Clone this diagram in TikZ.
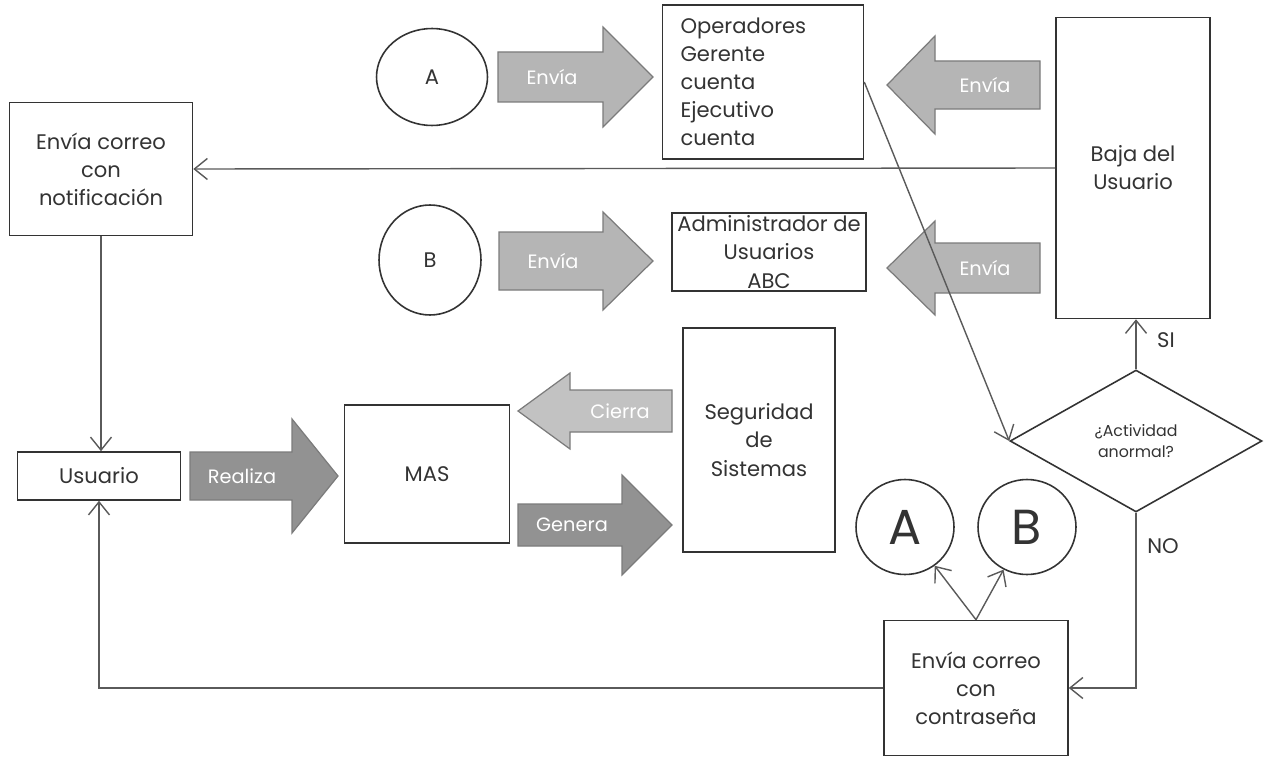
\documentclass[tikz,border=0pt]{standalone}
\usepackage{fontspec}
\setmainfont{Poppins}
\usetikzlibrary{arrows.meta,shapes.geometric}

\definecolor{inkgray}{HTML}{333333}
\definecolor{linegray}{HTML}{5A5A5A}
\definecolor{lightarrow}{HTML}{B5B5B5}
\definecolor{palearrow}{HTML}{C2C2C2}
\definecolor{darkarrow}{HTML}{929292}

\begin{document}
\begin{tikzpicture}[x=0.02cm,y=-0.02cm,
    box/.style={draw=inkgray, line width=0.9pt, align=center, text=inkgray,
                font=\fontsize{12}{16}\selectfont, inner sep=2pt},
    ring/.style={draw=inkgray, line width=0.9pt, ellipse, text=inkgray, inner sep=0pt},
    conn/.style={draw=linegray, line width=0.8pt, -{Straight Barb[length=2.6mm,width=4.2mm]}},
    blk/.style={draw=linegray!80, line width=0.7pt},
    blklabel/.style={text=white, font=\fontsize{11}{13}\selectfont}]

\useasboundingbox (0,0) rectangle (1270,757);

% Boxes
\node[box, minimum width=3.66cm, minimum height=2.66cm] (notif) at (101,169)
    {Envía correo\\con\\notificación};
\node[box, minimum width=4.02cm, minimum height=3.08cm, text width=3.3cm, align=left] (oper) at (763,82)
    {Operadores\\Gerente\\cuenta\\Ejecutivo\\cuenta};
\node[box, minimum width=3.08cm, minimum height=6.02cm] (baja) at (1133,168)
    {Baja del\\Usuario};
\node[box, minimum width=3.88cm, minimum height=1.56cm, inner sep=0pt] (admin) at (769,252)
    {Administrador de\\Usuarios\\ABC};
\node[box, minimum width=3.26cm, minimum height=0.96cm] (usuario) at (99,476) {Usuario};
\node[box, minimum width=3.3cm, minimum height=2.76cm] (mas) at (427,474) {MAS};
\node[box, minimum width=3.04cm, minimum height=4.48cm] (segur) at (759,440)
    {Seguridad\\de\\Sistemas};
\node[box, minimum width=3.68cm, minimum height=2.7cm] (contra) at (976,688)
    {Envía correo\\con\\contraseña};

% Decision
\node[draw=inkgray, line width=0.9pt, diamond, minimum width=5.04cm, minimum height=2.84cm,
      align=center, text=inkgray, font=\fontsize{9}{12}\selectfont, inner sep=0pt] (dec) at (1136,441)
    {¿Actividad\\anormal?};

% Circles
\node[ring, minimum width=2.22cm, minimum height=1.94cm, font=\fontsize{12}{14}\selectfont] (topA) at (432,77) {A};
\node[ring, minimum width=2.04cm, minimum height=2.2cm, font=\fontsize{12}{14}\selectfont] (topB) at (430,260) {B};
\node[ring, minimum width=1.96cm, minimum height=1.9cm, font=\fontsize{28}{30}\selectfont] (bigA) at (905,527) {A};
\node[ring, minimum width=1.96cm, minimum height=1.9cm, font=\fontsize{28}{30}\selectfont] (bigB) at (1027,527) {B};

% Block arrows
\filldraw[blk, fill=lightarrow] (498,52) -- (603,52) -- (603,27) -- (653,77) -- (603,127) -- (603,102) -- (498,102) -- cycle;
\filldraw[blk, fill=lightarrow] (499,232) -- (603,232) -- (603,212) -- (653,261) -- (603,310) -- (603,290) -- (499,290) -- cycle;
\filldraw[blk, fill=lightarrow] (1040,61) -- (935,61) -- (935,36) -- (887,85) -- (935,134) -- (935,109) -- (1040,109) -- cycle;
\filldraw[blk, fill=lightarrow] (1040,243) -- (935,243) -- (935,221) -- (887,268) -- (935,315) -- (935,293) -- (1040,293) -- cycle;
\filldraw[blk, fill=darkarrow] (190,452) -- (292,452) -- (292,419) -- (338,476) -- (292,533) -- (292,500) -- (190,500) -- cycle;
\filldraw[blk, fill=palearrow] (672,390) -- (570,390) -- (570,373) -- (518,411) -- (570,449) -- (570,432) -- (672,432) -- cycle;
\filldraw[blk, fill=darkarrow] (518,504) -- (622,504) -- (622,475) -- (672,525) -- (622,575) -- (622,546) -- (518,546) -- cycle;

\node[blklabel] (envA) at (552,77) {Envía};
\node[blklabel] (envB) at (553,261) {Envía};
\node[blklabel] (envC) at (985,85) {Envía};
\node[blklabel] (envD) at (985,268) {Envía};
\node[blklabel] (realiza) at (242,476) {Realiza};
\node[blklabel] (cierra) at (620,411) {Cierra};
\node[blklabel] (genera) at (572,525) {Genera};

% Connectors
\draw[conn] (baja.west) -- (notif.east);
\draw[conn] (notif.south) -- (notif.south |- usuario.north);
\draw[conn] (contra.west) -| (usuario.south);
\draw[conn] (oper.east) -- (dec.west);
\draw[conn] (dec.north) -- (dec.north |- baja.south);
\draw[conn] (dec.south) |- (contra.east);
\draw[conn] (contra.north) -- (bigA);
\draw[conn] (contra.north) -- (bigB);

% Labels
\node[text=inkgray, font=\fontsize{12}{14}\selectfont] (si) at (1166,340) {SI};
\node[text=inkgray, font=\fontsize{12}{14}\selectfont] (no) at (1163,546) {NO};

\end{tikzpicture}
\end{document}
